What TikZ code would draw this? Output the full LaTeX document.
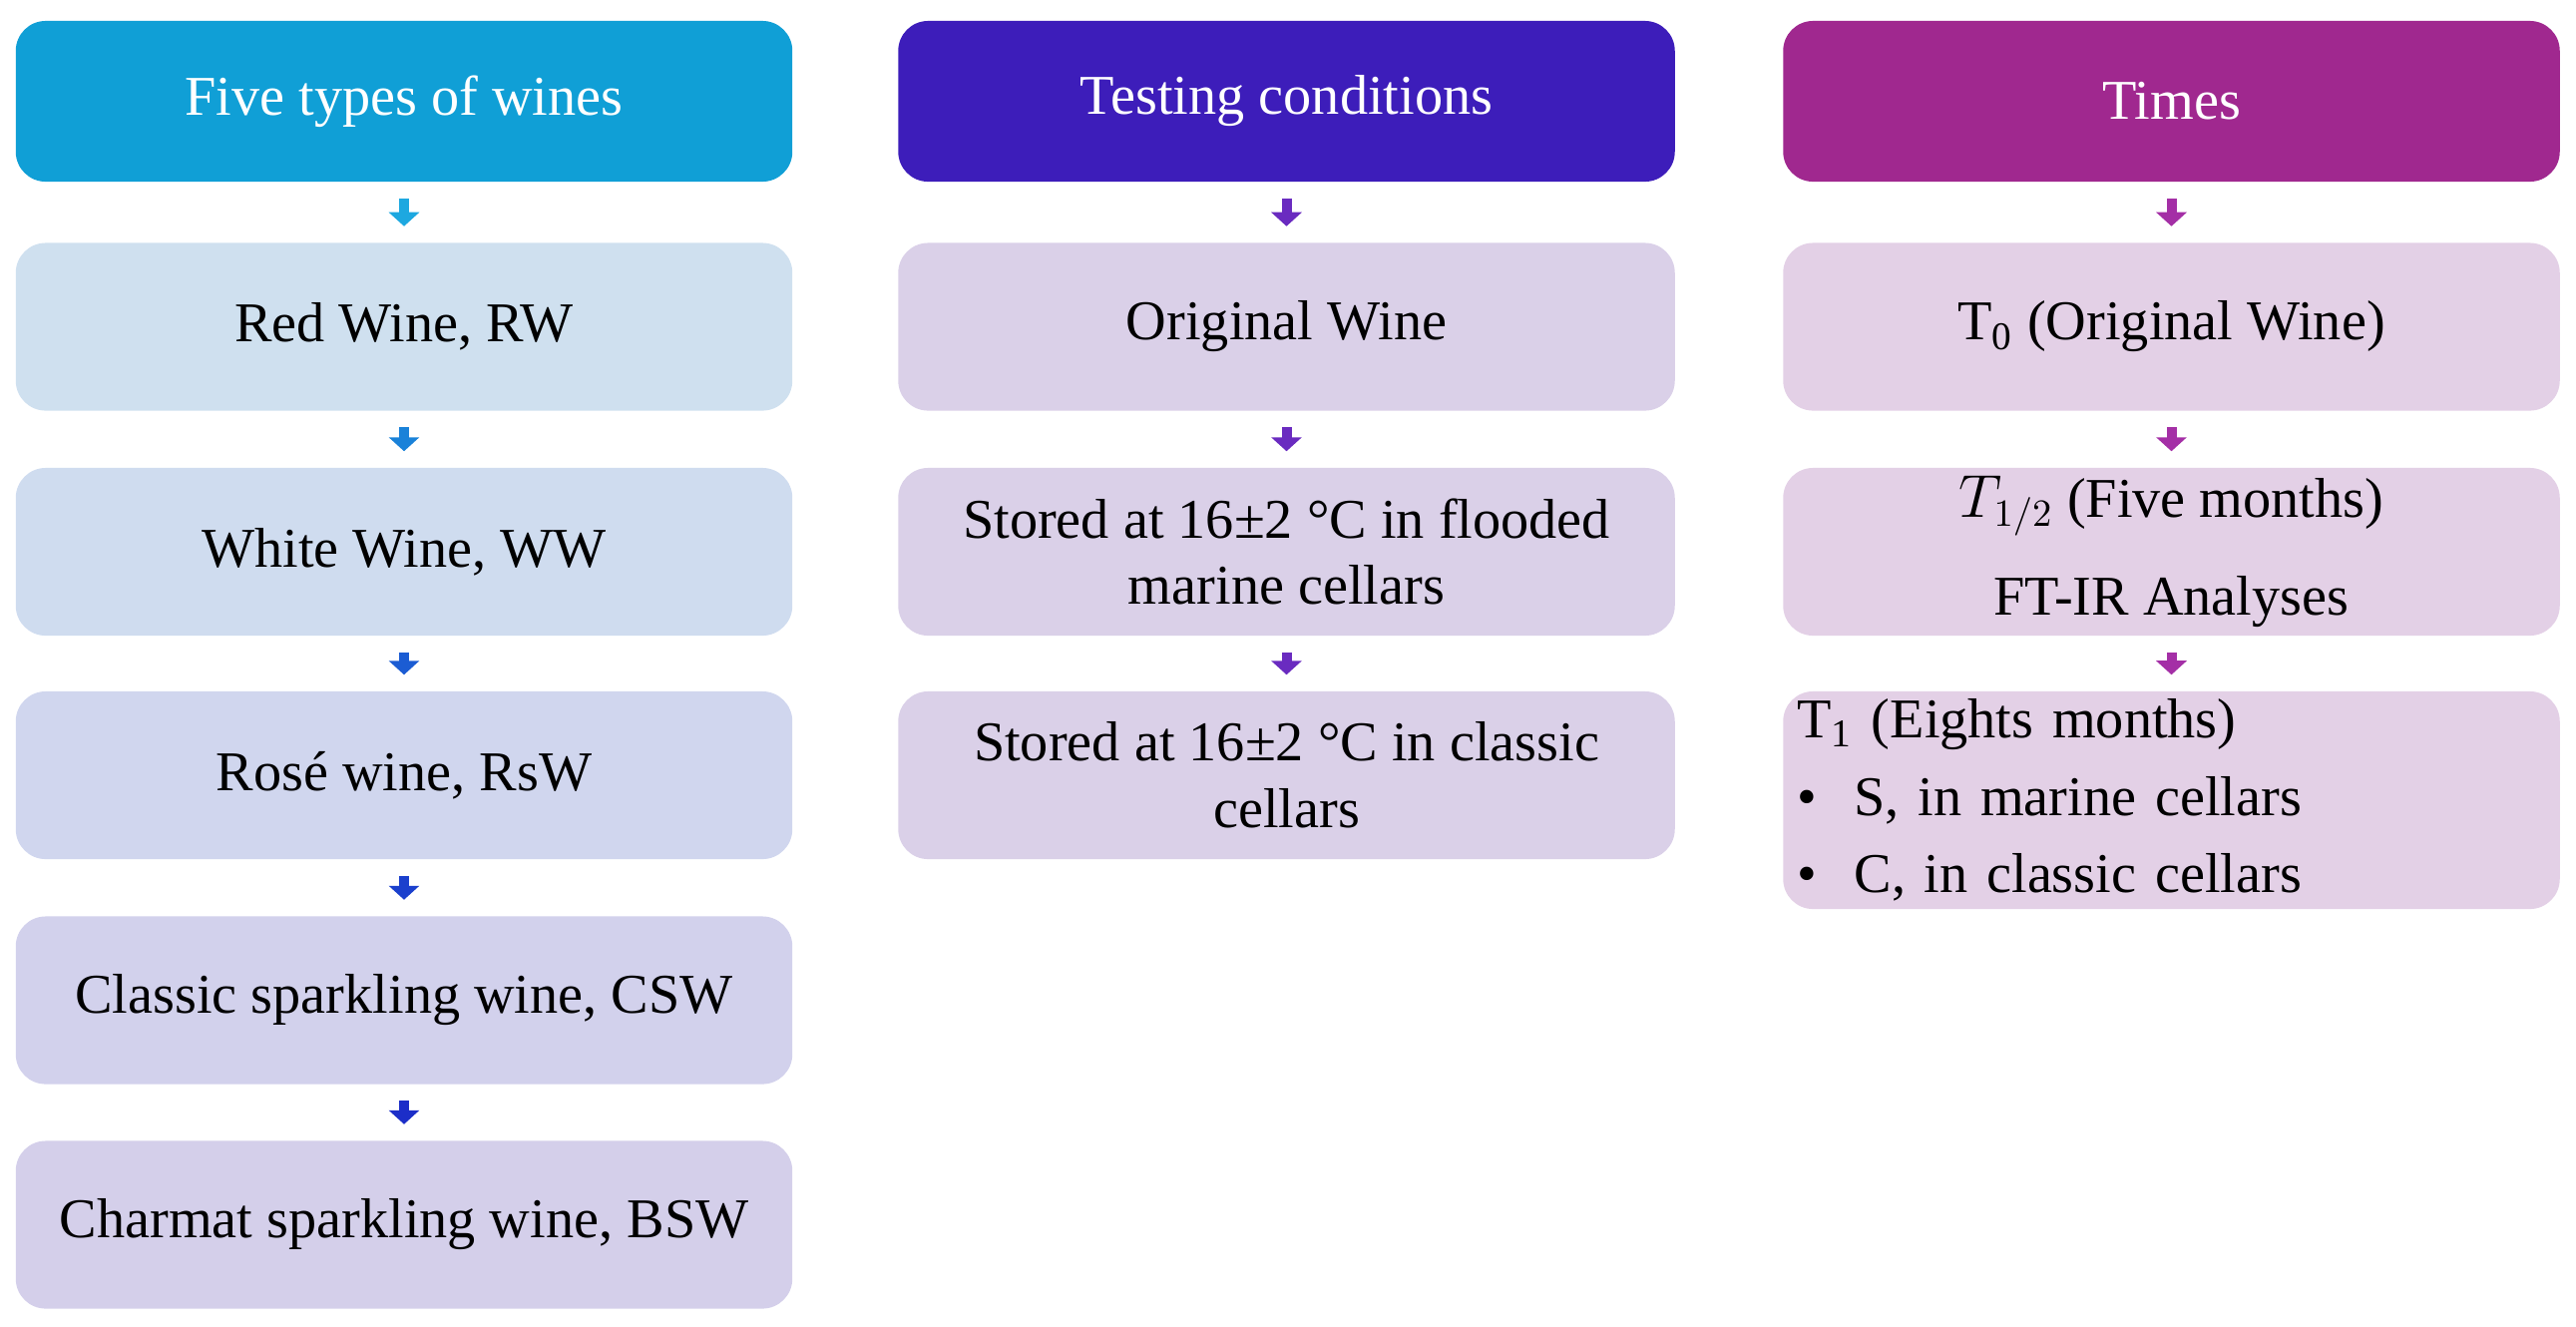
\documentclass[tikz,border=0pt]{standalone}
\usepackage{fontspec}
\setmainfont{Liberation Serif}
\usetikzlibrary{arrows.meta}
\definecolor{hA}{HTML}{109FD6}\definecolor{hB}{HTML}{3D1DBA}\definecolor{hC}{HTML}{A0288F}
\definecolor{a1}{HTML}{CFE0EF}\definecolor{a2}{HTML}{CFDCEF}\definecolor{a3}{HTML}{D0D6EE}\definecolor{a4}{HTML}{D2D1EC}\definecolor{a5}{HTML}{D4CFEA}
\definecolor{bb}{HTML}{DAD0E8}\definecolor{cc}{HTML}{E3D0E6}
\definecolor{r1}{HTML}{1DA8E0}\definecolor{r2}{HTML}{1A82D9}\definecolor{r3}{HTML}{1B5CD3}\definecolor{r4}{HTML}{1B40CD}\definecolor{r5}{HTML}{1C2EC8}
\definecolor{rB}{HTML}{6A2BC0}\definecolor{rC}{HTML}{A42FA6}
\begin{document}
\begin{tikzpicture}[x=0.01cm,y=-0.01cm,
 box/.style={rounded corners=0.3cm,minimum width=7.78cm,align=center,font=\fontsize{16}{19}\selectfont,inner sep=0pt},
 hd/.style={box,text=white,minimum height=1.61cm},
 bx/.style={box,minimum height=1.68cm},
 ar/.style={line width=0.1cm,-{Triangle[width=0.3cm,length=0.14cm]},shorten <=0.16cm,shorten >=0.16cm}]
\useasboundingbox (0,0) rectangle (2582,1329);
\node[hd,fill=hA] (h1) at (405,101.5) {Five types of wines};
\node[hd,fill=hB] (h2) at (1289.5,101.5) {Testing conditions};
\node[hd,fill=hC] (h3) at (2176.5,101.5) {Times};
\node[bx,fill=a1] (a1) at (405,327.5) {Red Wine, RW};
\node[bx,fill=a2] (a2) at (405,553) {White Wine, WW};
\node[bx,fill=a3] (a3) at (405,777) {Rosé wine, RsW};
\node[bx,fill=a4] (a4) at (405,1002.5) {Classic sparkling wine, CSW};
\node[bx,fill=a5] (a5) at (405,1227.5) {Charmat sparkling wine, BSW};
\node[bx,fill=bb] (b1) at (1289.5,327.5) {Original Wine};
\node[bx,fill=bb] (b2) at (1289.5,553) {Stored at 16±2 °C in flooded\\marine cellars};
\node[bx,fill=bb] (b3) at (1289.5,777) {Stored at 16±2 °C in classic\\cellars};
\node[bx,fill=cc] (c1) at (2176.5,327.5) {T\textsubscript{0} (Original Wine)};
\node[bx,fill=cc,font=\fontsize{16}{28}\selectfont] (c2) at (2176.5,553) {$T_{1/2}$ (Five months)\\FT-IR Analyses};
\node[bx,fill=cc,minimum height=2.18cm,align=left,text width=7.5cm,font=\fontsize{16}{20}\selectfont] (c3) at (2176.5,802) {T\textsubscript{1} (Eights months)\\[2pt]
\textbullet\ \ S, in marine cellars\\[2pt]\textbullet\ \ C, in classic cellars};
\draw[ar,r1] (h1) -- (a1); \draw[ar,r2] (a1) -- (a2); \draw[ar,r3] (a2) -- (a3);
\draw[ar,r4] (a3) -- (a4); \draw[ar,r5] (a4) -- (a5);
\draw[ar,rB] (h2) -- (b1); \draw[ar,rB] (b1) -- (b2); \draw[ar,rB] (b2) -- (b3);
\draw[ar,rC] (h3) -- (c1); \draw[ar,rC] (c1) -- (c2); \draw[ar,rC] (c2) -- (c3);
\end{tikzpicture}
\end{document}
